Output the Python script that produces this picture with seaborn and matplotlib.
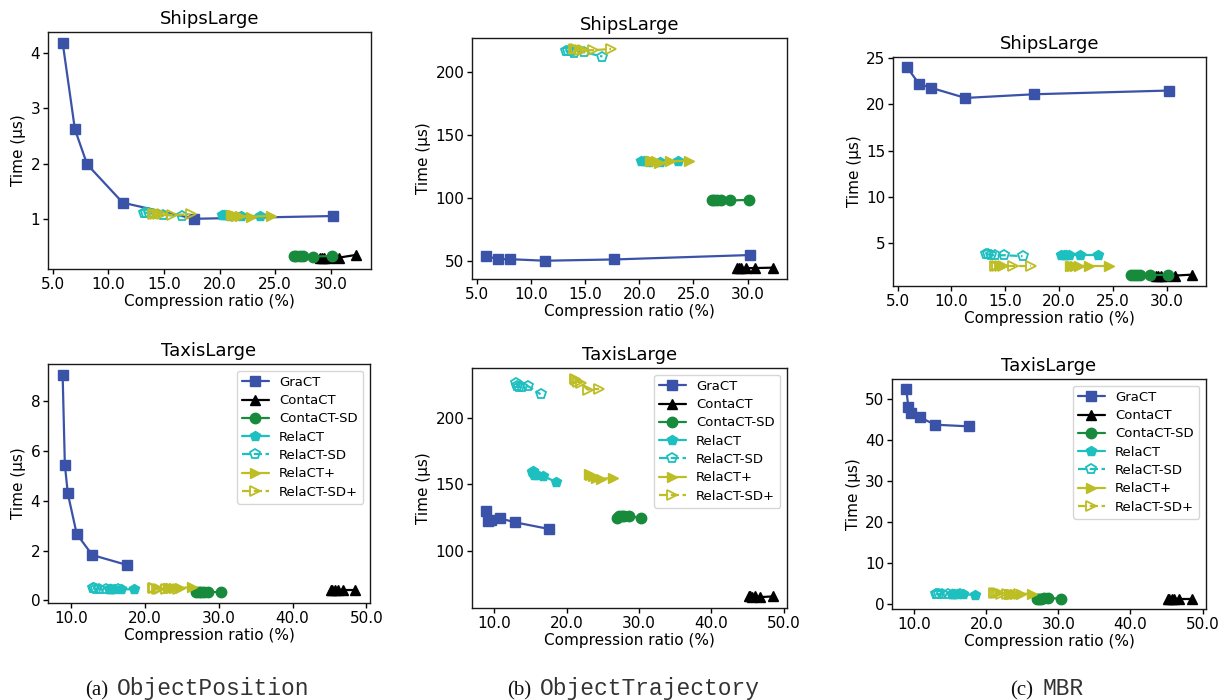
import matplotlib
matplotlib.use("Agg")
import matplotlib.pyplot as plt
import seaborn as sns

# ---------------------------------------------------------------------------
# Data
# ---------------------------------------------------------------------------
methods = ["GraCT", "ContaCT", "ContaCT-SD", "RelaCT", "RelaCT-SD", "RelaCT+", "RelaCT-SD+"]

# Compression ratio (%) per method, ShipsLarge
ships_x = {
    "GraCT":      [5.9, 7.0, 8.1, 11.3, 17.7, 30.2],
    "ContaCT":    [29.0, 29.2, 29.4, 29.8, 30.7, 32.3],
    "ContaCT-SD": [26.7, 26.9, 27.2, 27.5, 28.4, 30.1],
    "RelaCT":     [20.2, 20.4, 20.6, 20.9, 21.9, 23.6],
    "RelaCT-SD":  [13.2, 13.4, 13.7, 14.0, 14.9, 16.6],
    "RelaCT+":    [21.0, 21.2, 21.5, 21.8, 22.8, 24.6],
    "RelaCT-SD+": [14.0, 14.2, 14.5, 14.8, 15.7, 17.4],
}

# Compression ratio (%) per method, TaxisLarge
taxis_x = {
    "GraCT":      [8.9, 9.2, 9.6, 10.8, 12.9, 17.6],
    "ContaCT":    [45.2, 45.4, 45.7, 46.1, 46.8, 48.5],
    "ContaCT-SD": [27.0, 27.3, 27.6, 28.0, 28.6, 30.3],
    "RelaCT":     [15.2, 15.3, 15.5, 15.9, 16.8, 18.5],
    "RelaCT-SD":  [13.0, 13.2, 13.4, 13.8, 14.7, 16.4],
    "RelaCT+":    [23.1, 23.3, 23.6, 24.0, 24.8, 26.4],
    "RelaCT-SD+": [21.1, 21.3, 21.6, 22.0, 22.9, 24.5],
}

# Query time (us): ObjectPosition
pos_ships_y = {
    "GraCT":      [4.18, 2.62, 1.99, 1.30, 1.01, 1.06],
    "ContaCT":    [0.30, 0.30, 0.30, 0.31, 0.31, 0.36],
    "ContaCT-SD": [0.34, 0.34, 0.34, 0.34, 0.33, 0.34],
    "RelaCT":     [1.07, 1.07, 1.07, 1.06, 1.06, 1.06],
    "RelaCT-SD":  [1.12, 1.12, 1.11, 1.10, 1.08, 1.06],
    "RelaCT+":    [1.07, 1.07, 1.06, 1.06, 1.05, 1.06],
    "RelaCT-SD+": [1.10, 1.10, 1.10, 1.09, 1.08, 1.09],
}
pos_taxis_y = {
    "GraCT":      [9.05, 5.44, 4.29, 2.67, 1.82, 1.42],
    "ContaCT":    [0.42, 0.42, 0.42, 0.42, 0.42, 0.42],
    "ContaCT-SD": [0.33, 0.33, 0.34, 0.34, 0.34, 0.33],
    "RelaCT":     [0.46, 0.46, 0.46, 0.45, 0.45, 0.44],
    "RelaCT-SD":  [0.48, 0.48, 0.47, 0.47, 0.47, 0.46],
    "RelaCT+":    [0.48, 0.48, 0.48, 0.48, 0.49, 0.54],
    "RelaCT-SD+": [0.48, 0.48, 0.47, 0.47, 0.47, 0.47],
}

# Query time (us): ObjectTrajectory
traj_ships_y = {
    "GraCT":      [54.0, 51.5, 51.5, 50.3, 51.3, 54.8],
    "ContaCT":    [44.5, 44.5, 44.5, 44.5, 44.5, 44.8],
    "ContaCT-SD": [98.0, 98.0, 98.0, 98.0, 98.0, 98.5],
    "RelaCT":     [129.0, 129.0, 129.0, 128.5, 128.5, 129.0],
    "RelaCT-SD":  [216.5, 216.5, 216.0, 215.0, 215.5, 212.0],
    "RelaCT+":    [129.5, 129.5, 129.0, 127.5, 129.0, 129.5],
    "RelaCT-SD+": [218.0, 218.0, 217.5, 217.0, 217.0, 218.0],
}
traj_taxis_y = {
    "GraCT":      [130.0, 122.5, 123.5, 124.5, 121.5, 116.5],
    "ContaCT":    [66.0, 66.0, 65.5, 66.0, 65.5, 66.0],
    "ContaCT-SD": [125.0, 126.0, 126.5, 126.0, 126.0, 125.0],
    "RelaCT":     [159.0, 160.0, 157.0, 157.0, 156.0, 152.0],
    "RelaCT-SD":  [226.0, 224.0, 223.0, 223.0, 223.5, 217.5],
    "RelaCT+":    [158.0, 157.0, 156.0, 155.0, 154.0, 155.0],
    "RelaCT-SD+": [229.0, 228.0, 227.0, 226.0, 221.0, 221.5],
}

# Query time (us): MBR
mbr_ships_y = {
    "GraCT":      [24.0, 22.2, 21.8, 20.7, 21.1, 21.5],
    "ContaCT":    [1.5, 1.5, 1.5, 1.5, 1.5, 1.6],
    "ContaCT-SD": [1.55, 1.55, 1.55, 1.55, 1.55, 1.6],
    "RelaCT":     [3.7, 3.7, 3.7, 3.7, 3.7, 3.7],
    "RelaCT-SD":  [3.8, 3.8, 3.7, 3.7, 3.7, 3.6],
    "RelaCT+":    [2.5, 2.5, 2.5, 2.5, 2.5, 2.5],
    "RelaCT-SD+": [2.5, 2.5, 2.5, 2.5, 2.5, 2.5],
}
mbr_taxis_y = {
    "GraCT":      [52.4, 48.0, 46.6, 45.6, 43.8, 43.4],
    "ContaCT":    [1.4, 1.4, 1.4, 1.4, 1.4, 1.4],
    "ContaCT-SD": [1.4, 1.4, 1.4, 1.45, 1.5, 1.4],
    "RelaCT":     [2.4, 2.4, 2.4, 2.4, 2.4, 2.3],
    "RelaCT-SD":  [2.5, 2.5, 2.5, 2.5, 2.4, 2.4],
    "RelaCT+":    [2.6, 2.6, 2.6, 2.6, 2.6, 2.5],
    "RelaCT-SD+": [2.7, 2.7, 2.7, 2.6, 2.6, 2.6],
}

ships_xticks = [5.0, 10.0, 15.0, 20.0, 25.0, 30.0]
taxis_xticks = [10.0, 20.0, 30.0, 40.0, 50.0]
pos_ships_yticks = [1, 2, 3, 4]
pos_taxis_yticks = [0, 2, 4, 6, 8]
traj_ships_yticks = [50, 100, 150, 200]
traj_taxis_yticks = [100, 150, 200]
mbr_ships_yticks = [5, 10, 15, 20, 25]
mbr_taxis_yticks = [0, 10, 20, 30, 40, 50]

captions = [("(a)", "ObjectPosition"), ("(b)", "ObjectTrajectory"), ("(c)", "MBR")]

# ---------------------------------------------------------------------------
# Styling
# ---------------------------------------------------------------------------
sns.set_style("ticks")
plt.rcParams["font.family"] = ["DejaVu Sans"]
plt.rcParams["axes.edgecolor"] = "0.1"
plt.rcParams["axes.linewidth"] = 1.0
plt.rcParams["text.color"] = "black"
plt.rcParams["axes.labelcolor"] = "black"
plt.rcParams["xtick.color"] = "black"
plt.rcParams["ytick.color"] = "black"

BLUE = "#3a53a8"
GREEN = "#178a3c"
CYAN = "#1ebfbf"
OLIVE = "#bdbd24"

series_style = {
    "GraCT":      dict(color=BLUE,  marker="s", ls="-",  filled=True),
    "ContaCT":    dict(color="black", marker="^", ls="-", filled=True),
    "ContaCT-SD": dict(color=GREEN, marker="o", ls="-",  filled=True),
    "RelaCT":     dict(color=CYAN,  marker="p", ls="-",  filled=True),
    "RelaCT-SD":  dict(color=CYAN,  marker="p", ls="--", filled=False),
    "RelaCT+":    dict(color=OLIVE, marker=">", ls="-",  filled=True),
    "RelaCT-SD+": dict(color=OLIVE, marker=">", ls="--", filled=False),
}

W, H = 1228, 700
fig = plt.figure(figsize=(W / 100, H / 100), dpi=100)


def px_rect(left, top, right, bottom):
    return [left / W, 1 - bottom / H, (right - left) / W, (bottom - top) / H]


panels = [
    # axes box (px), x data, y data, title, xticks, yticks, legend
    (px_rect(48, 32, 371, 269), ships_x, pos_ships_y, "ShipsLarge", ships_xticks, pos_ships_yticks, False),
    (px_rect(472, 38, 787, 279), ships_x, traj_ships_y, "ShipsLarge", ships_xticks, traj_ships_yticks, False),
    (px_rect(893, 57, 1206, 286), ships_x, mbr_ships_y, "ShipsLarge", ships_xticks, mbr_ships_yticks, False),
    (px_rect(48, 364, 370, 603), taxis_x, pos_taxis_y, "TaxisLarge", taxis_xticks, pos_taxis_yticks, True),
    (px_rect(472, 368, 787, 608), taxis_x, traj_taxis_y, "TaxisLarge", taxis_xticks, traj_taxis_yticks, True),
    (px_rect(892, 379, 1206, 609), taxis_x, mbr_taxis_y, "TaxisLarge", taxis_xticks, mbr_taxis_yticks, True),
]

for rect, xs, ys, title, xticks, yticks, show_legend in panels:
    ax = fig.add_axes(rect)
    for name in methods:
        st = series_style[name]
        sns.lineplot(
            x=xs[name], y=ys[name], ax=ax, sort=False, estimator=None,
            color=st["color"], marker=st["marker"], linestyle=st["ls"],
            linewidth=1.6, markersize=7.5,
            markerfacecolor=st["color"] if st["filled"] else "none",
            markeredgecolor=st["color"],
            markeredgewidth=1.0 if st["filled"] else 1.3,
            label=name, legend=False,
        )
    ax.set_title(title, fontsize=13, pad=6)
    ax.set_xlabel("Compression ratio (%)", fontsize=11, labelpad=2)
    ax.set_ylabel("Time (µs)", fontsize=11, labelpad=3)
    ax.set_xticks(xticks)
    ax.set_xticklabels([f"{t:.1f}" for t in xticks])
    ax.set_yticks(yticks)
    ax.set_yticklabels([str(t) for t in yticks])
    ax.tick_params(labelsize=11, length=3.5, width=1.0, pad=2)
    for sp in ax.spines.values():
        sp.set_visible(True)
    if show_legend:
        ax.legend(loc="upper right", fontsize=9.5, frameon=True,
                  handlelength=2.0, labelspacing=0.4, borderpad=0.4,
                  edgecolor="0.8", fancybox=True)

# Sub-figure captions: label in serif, query name in monospace
caption_pos = [(108, 117), (531, 540), (1033, 1042)]
for (lab, name), (xr, xl) in zip(captions, caption_pos):
    fig.text(xr / W, 5 / H, lab, ha="right", va="baseline",
             family="Liberation Serif", fontsize=15, color="#111111")
    fig.text(xl / W, 5 / H, name, ha="left", va="baseline",
             family="Liberation Mono", fontsize=16.5, color="#333333")

fig.savefig("out.png", dpi=100, facecolor="white")
